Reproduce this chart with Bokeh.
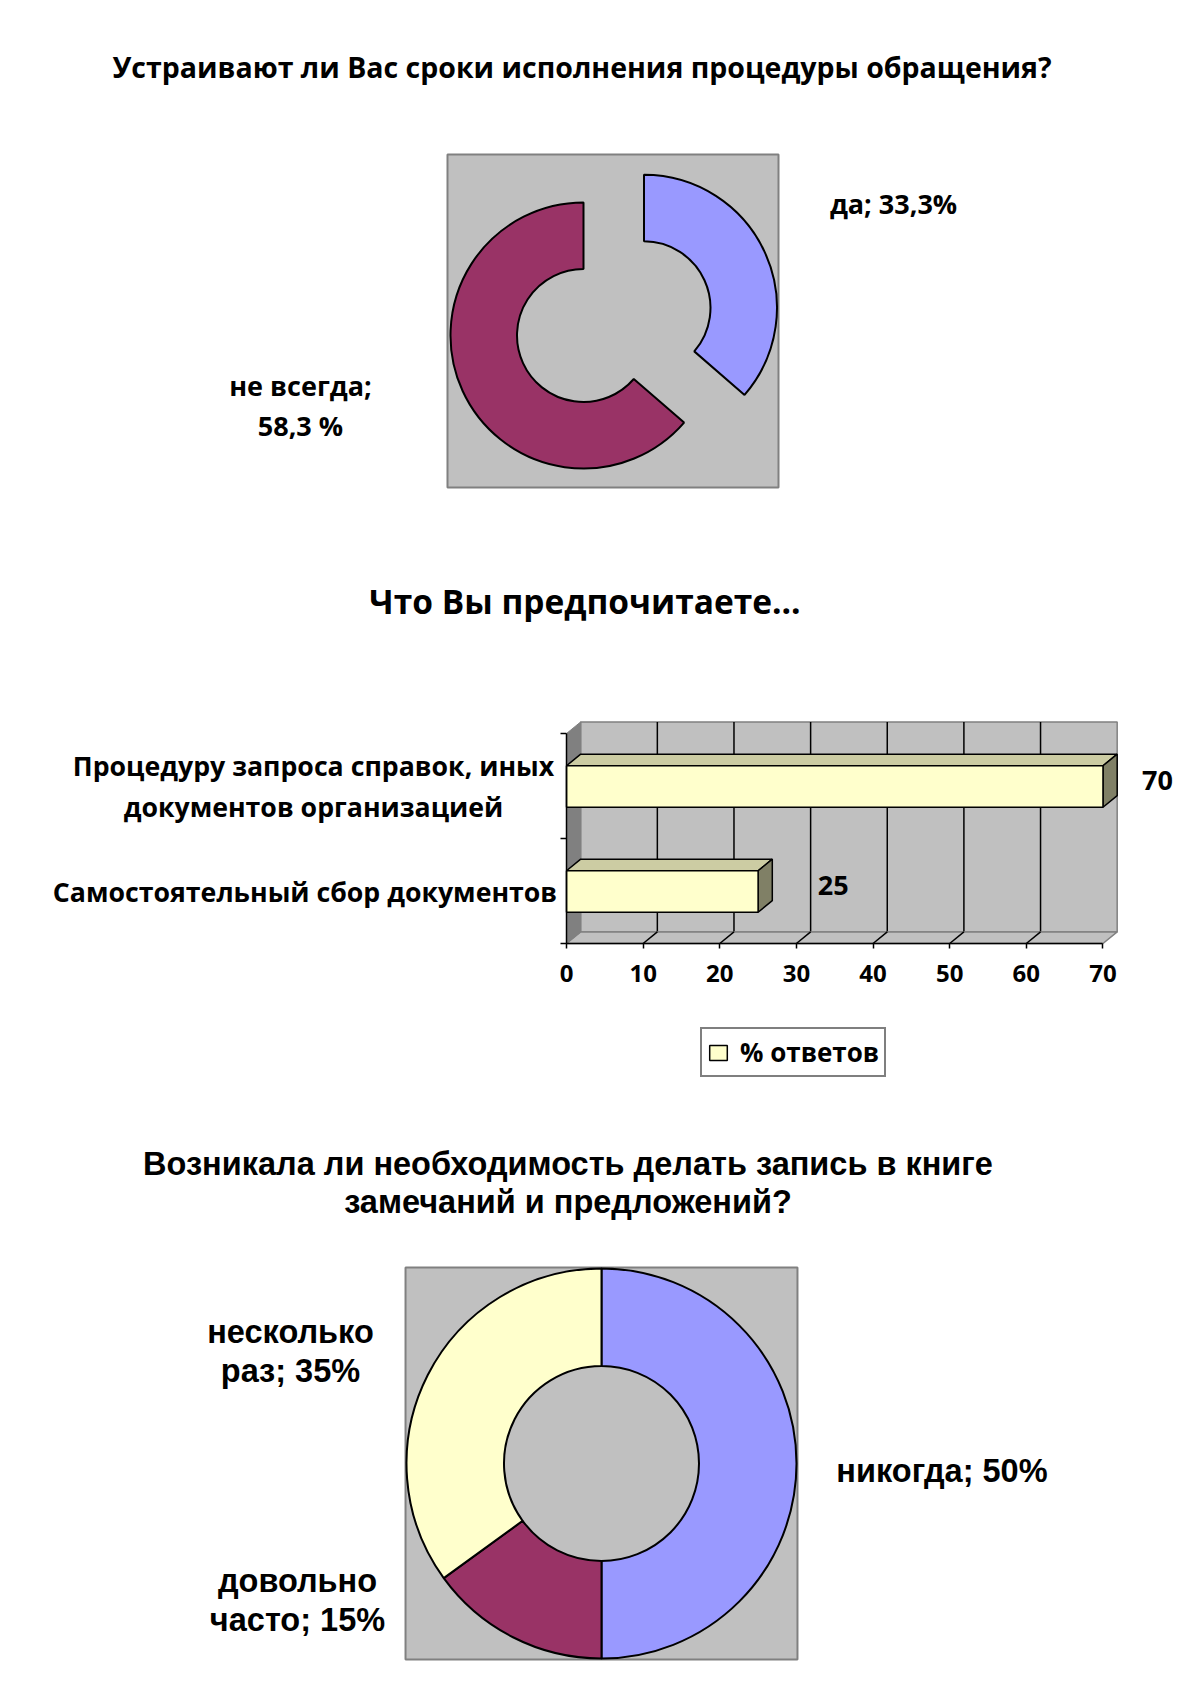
import numpy as np
from bokeh.plotting import figure
from bokeh.layouts import column
from bokeh.models import Range1d, FixedTicker, Legend, LegendItem, LinearAxis
from bokeh.core.properties import value
from bokeh.embed import file_html
from bokeh.resources import INLINE

# ---------------- data ----------------
q1_title = "Устраивают ли Вас сроки исполнения процедуры обращения?"
q1_labels = ["да; 33,3%", "не всегда;\n58,3 %"]
q1_values = [33.3, 58.3]

q2_title = "Что Вы предпочитаете..."
q2_categories = ["Самостоятельный сбор документов",
                 "Процедуру запроса справок, иных\nдокументов организацией"]
q2_values = [25, 70]
q2_ticks = [0, 10, 20, 30, 40, 50, 60, 70]
q2_series = "% ответов"

q3_title = "Возникала ли необходимость делать запись в книге\nзамечаний и предложений?"
q3_labels = ["никогда; 50%", "довольно\nчасто; 15%", "несколько\nраз; 35%"]
q3_values = [50, 15, 35]

# ---------------- styles / layout ----------------
CAL = "Open Sans"
ARL = "Liberation Sans"
BLUE, PLUM, YEL, GRAY, DGRAY = "#9999FF", "#993366", "#FFFFCC", "#C0C0C0", "#808080"
q1_colors = [BLUE, PLUM]
q1_explode = [0.5, 0.0]
q1_label_pos = [(2.331, 0.992), (-2.128, -0.526)]
q2_label_cx = [304.5, 313.0]     # horizontal centres (px) of the category labels
q3_colors = [BLUE, PLUM, YEL]
q3_label_pos = [(1.746, -0.041), (-1.559, -0.703), (-1.595, 0.574)]


def donut_angles(vals):
    v = np.asarray(vals, float)
    cum = np.concatenate([[0.0], np.cumsum(v)]) / v.sum()
    start = np.pi / 2 - 2 * np.pi * cum[:-1]
    end = np.pi / 2 - 2 * np.pi * cum[1:]
    return start, end


def blank_fig(w, h, xr, yr):
    p = figure(width=w, height=h, x_range=Range1d(*xr), y_range=Range1d(*yr),
               output_backend="svg", toolbar_location=None, min_border=0,
               x_axis_location=None, y_axis_location=None, title=None)
    p.grid.visible = False
    p.outline_line_color = None
    return p


# ---------------- chart 1 ----------------
H1 = 530
S1 = 133.0
c1x, c1y = 583.0, 335.0
p1 = blank_fig(1200, H1, (-c1x / S1, (1200 - c1x) / S1), (-(H1 - c1y) / S1, c1y / S1))
p1.quad(left=-1.0226, right=1.4662, bottom=-1.1429, top=1.3609,
        fill_color=GRAY, line_color=DGRAY, line_width=2)
st, en = donut_angles(q1_values)
mid = (st + en) / 2
ex = np.array(q1_explode)
p1.annular_wedge(x=ex * np.cos(mid), y=ex * np.sin(mid), inner_radius=0.5, outer_radius=1.0,
                 start_angle=st, end_angle=en, direction="clock",
                 fill_color=q1_colors, line_color="black", line_width=2)
p1.text(x=[-0.011], y=[2.02], text=[q1_title], text_font=value(CAL), text_font_style="bold",
        text_font_size="28.5px", text_align="center", text_baseline="middle", text_color="black")
p1.text(x=[q[0] for q in q1_label_pos], y=[q[1] for q in q1_label_pos], text=q1_labels,
        text_font=value(CAL), text_font_style="bold", text_font_size="27px",
        text_align="center", text_baseline="middle", text_color="black", text_line_height=1.09)

# ---------------- chart 2 ----------------
H2 = 570
TOP2 = H1
AXY = 943 - TOP2       # axis line, px from top of this figure
AXX = 566              # value 0, px from left
PXU = 7.664            # px per percent
YU = 52.5              # px per half category band
dx = 14.2 / PXU
dy = 11.6 / YU
p2 = figure(width=1200, height=H2, x_range=Range1d(-AXX / PXU, (1200 - AXX) / PXU),
            y_range=Range1d(-(H2 - AXY) / YU, AXY / YU), output_backend="svg",
            toolbar_location=None, min_border=0, x_axis_location=None, y_axis_location=None,
            title=None)
p2.grid.visible = False
p2.outline_line_color = None

xmax = q2_ticks[-1]
ncat = len(q2_categories)
ytop = 2 * ncat
# back wall
p2.patch(x=[dx, xmax + dx, xmax + dx, dx], y=[dy, dy, ytop + dy, ytop + dy],
         fill_color=GRAY, line_color=DGRAY, line_width=1.5)
inner_ticks = q2_ticks[1:-1]
p2.segment(x0=[t + dx for t in inner_ticks], y0=[dy] * len(inner_ticks),
           x1=[t + dx for t in inner_ticks], y1=[ytop + dy] * len(inner_ticks),
           line_color="black", line_width=1.5)
# floor
p2.patch(x=[0, xmax, xmax + dx, dx], y=[0, 0, dy, dy], fill_color=GRAY, line_color=DGRAY, line_width=1.5)
p2.segment(x0=inner_ticks, y0=[0] * len(inner_ticks), x1=[t + dx for t in inner_ticks],
           y1=[dy] * len(inner_ticks), line_color="black", line_width=1.5)
# left wall
p2.patch(x=[0, dx, dx, 0], y=[0, dy, ytop + dy, ytop], fill_color=DGRAY, line_color=DGRAY, line_width=1)

# bars
ycat = [2 * i + 1 for i in range(ncat)]
yc = [c - 0.01 for c in ycat]
bh = 0.79
tops_x, tops_y, side_x, side_y = [], [], [], []
for v, c in zip(q2_values, yc):
    t, b = c + bh / 2, c - bh / 2
    tops_x.append([0, v, v + dx, dx])
    tops_y.append([t, t, t + dy, t + dy])
    side_x.append([v, v + dx, v + dx, v])
    side_y.append([b, b + dy, t + dy, t])
p2.patches(xs=tops_x, ys=tops_y, fill_color="#CCCCA3", line_color="black", line_width=1.5)
p2.patches(xs=side_x, ys=side_y, fill_color="#808066", line_color="black", line_width=1.5)
front = p2.hbar(y=yc, left=0, right=q2_values, height=bh, fill_color=YEL,
                line_color="black", line_width=1.5)
p2.text(x=[0.94 * v + 11.3 for v in q2_values], y=[c + dy / 2 for c in yc],
        text=[str(v) for v in q2_values], text_font=value(CAL), text_font_style="bold",
        text_font_size="27px", text_align="center", text_baseline="middle", text_color="black")

xa = LinearAxis(fixed_location=0, ticker=FixedTicker(ticks=q2_ticks, minor_ticks=[]),
                bounds=(0, xmax))
xa.axis_line_color = "black"
xa.axis_line_width = 1.5
xa.major_tick_out = 5
xa.major_tick_in = 0
xa.major_tick_line_width = 1.5
xa.minor_tick_out = 0
xa.major_label_standoff = 16
xa.major_label_text_font = CAL
xa.major_label_text_font_style = "bold"
xa.major_label_text_font_size = "24px"
xa.major_label_text_color = "black"
p2.add_layout(xa, "below")

ya = LinearAxis(fixed_location=0,
                ticker=FixedTicker(ticks=[], minor_ticks=list(range(0, ytop + 1, 2))),
                bounds=(0, ytop))
ya.axis_line_color = "black"
ya.axis_line_width = 1.5
ya.major_tick_out = 0
ya.major_tick_in = 0
ya.minor_tick_out = 6
ya.minor_tick_in = 0
ya.minor_tick_line_color = "black"
ya.minor_tick_line_width = 1.5
p2.add_layout(ya, "left")

# category labels (centred lines, right edge near the axis)
p2.text(x=[(cx - AXX) / PXU for cx in q2_label_cx], y=ycat, text=q2_categories,
        text_font=value(CAL), text_font_style="bold", text_font_size="26.7px",
        text_align="center", text_baseline="middle", text_color="black", text_line_height=1.125)

p2.text(x=[(584.5 - AXX) / PXU], y=[(AXY - (600 - TOP2)) / YU], text=[q2_title],
        text_font=value(CAL), text_font_style="bold", text_font_size="33.5px",
        text_align="center", text_baseline="middle", text_color="black")

legend = Legend(items=[LegendItem(label=q2_series, renderers=[front])],
                location=(700, H2 - (1077 - TOP2)),
                border_line_color="black", border_line_width=2, background_fill_color="white",
                padding=5, margin=0, glyph_width=22, glyph_height=19, label_standoff=11,
                label_height=26, label_text_color="black",
                label_text_font=CAL, label_text_font_style="bold", label_text_font_size="26px")
p2.add_layout(legend)

# ---------------- chart 3 ----------------
H3 = 1701 - H1 - H2
S3 = 195.0
c3x, c3y = 601.0, 1463.0 - H1 - H2
p3 = blank_fig(1200, H3, (-c3x / S3, (1200 - c3x) / S3), (-(H3 - c3y) / S3, c3y / S3))
p3.quad(left=-1.005, right=1.005, bottom=-1.005, top=1.005,
        fill_color=GRAY, line_color=DGRAY, line_width=2)
st3, en3 = donut_angles(q3_values)
p3.annular_wedge(x=0, y=0, inner_radius=0.5, outer_radius=1.0, start_angle=st3, end_angle=en3,
                 direction="clock", fill_color=q3_colors, line_color="black", line_width=2)
p3.text(x=[-0.172], y=[1.4385], text=[q3_title], text_font=value(ARL), text_font_style="bold",
        text_font_size="32.5px", text_align="center", text_baseline="middle", text_color="black",
        text_line_height=1.075)
p3.text(x=[q[0] for q in q3_label_pos], y=[q[1] for q in q3_label_pos], text=q3_labels,
        text_font=value(ARL), text_font_style="bold", text_font_size="32.5px",
        text_align="center", text_baseline="middle", text_color="black", text_line_height=1.1)

layout = column(p1, p2, p3, spacing=0)
open("out.html", "w").write(file_html(layout, INLINE))
